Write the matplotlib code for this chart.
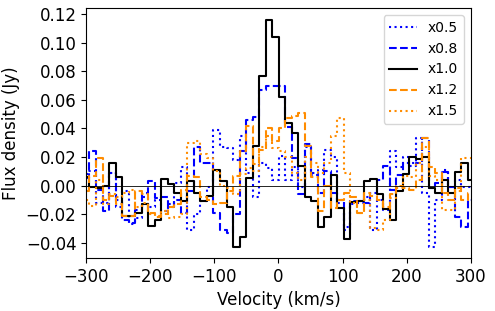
import numpy as np
import matplotlib
matplotlib.use("Agg")
import matplotlib.pyplot as plt

# channel velocities (km/s)
velocity = np.round(-299.9 + 10.18 * np.arange(60), 1)

flux_x10 = [0.006, -0.001, -0.002, 0.000, 0.016, 0.006, -0.021, -0.021, -0.019, -0.013,
            -0.028, -0.024, 0.0045, 0.001, -0.005, -0.011, 0.003, -0.005, -0.011, -0.007,
            0.011, 0.003, -0.015, -0.043, -0.036, 0.005, 0.028, 0.077, 0.116, 0.104,
            0.062, 0.0437, 0.037, 0.014, -0.0077, -0.0105, -0.029, -0.0217, 0.0075, -0.0158,
            -0.0375, -0.0112, -0.0105, 0.0033, 0.0045, -0.0058, -0.0163, -0.024, -0.0035, 0.0082,
            0.0203, 0.0187, 0.0203, -0.0015, -0.0049, 0.0042, -0.0049, 0.0098, 0.0157, 0.004]

flux_x08 = [0.005, 0.024, -0.003, -0.018, 0.009, -0.010, -0.024, -0.026, -0.017, -0.005,
            0.003, -0.009, -0.008, -0.015, -0.010, -0.019, -0.004, 0.027, 0.016, 0.016,
            -0.019, -0.031, -0.033, -0.020, 0.024, 0.046, 0.048, 0.067, 0.070, 0.070,
            0.070, 0.041, 0.0195, -0.006, 0.029, 0.009, -0.005, 0.010, -0.005, -0.012,
            -0.031, -0.011, -0.012, -0.012, -0.005, 0.004, 0.0135, -0.003, 0.0075, 0.016,
            0.0135, 0.016, 0.033, -0.002, 0.002, 0.0098, -0.001, -0.022, -0.029, -0.010]

flux_x05 = [0.008, 0.010, -0.012, -0.012, 0.009, -0.015, -0.004, -0.027, -0.023, -0.008,
            -0.015, -0.010, -0.018, -0.013, 0.002, 0.013, -0.031, -0.020, -0.011, -0.001,
            0.039, 0.027, 0.026, 0.018, 0.035, 0.009, -0.008, 0.016, 0.012, 0.004,
            0.021, 0.004, 0.013, -0.001, 0.027, 0.0075, 0.011, 0.025, 0.020, -0.010,
            -0.029, -0.013, -0.011, -0.008, -0.031, -0.010, -0.017, 0.024, 0.013, 0.020,
            0.016, 0.033, -0.005, -0.043, -0.010, 0.011, -0.001, 0.004, -0.001, -0.001]

flux_x12 = [-0.004, 0.007, 0.019, -0.010, -0.007, -0.013, -0.021, -0.021, -0.004, -0.006,
            -0.019, -0.022, -0.020, -0.015, -0.013, -0.003, 0.007, 0.006, -0.008, -0.010,
            -0.013, -0.012, -0.004, 0.007, 0.024, 0.042, 0.015, 0.025, 0.040, 0.031,
            0.040, 0.047, 0.049, 0.051, 0.028, 0.006, -0.018, 0.000, -0.016, -0.010,
            -0.005, -0.008, -0.019, -0.005, -0.007, -0.010, -0.015, -0.006, 0.000, -0.002,
            -0.003, 0.004, 0.033, 0.013, 0.009, -0.005, -0.010, -0.002, -0.010, -0.005]

flux_x15 = [-0.010, -0.014, 0.004, -0.013, -0.006, -0.008, -0.005, -0.003, -0.015, -0.012,
            -0.020, -0.021, -0.018, -0.023, -0.022, -0.020, 0.030, 0.031, 0.022, 0.019,
            0.010, 0.000, -0.002, -0.006, 0.008, 0.012, 0.010, 0.027, 0.035, 0.026,
            0.024, 0.020, 0.009, 0.004, 0.020, 0.016, 0.009, 0.016, 0.035, 0.047,
            0.009, -0.012, -0.019, -0.010, -0.030, -0.031, -0.024, -0.009, -0.002, 0.007,
            0.006, 0.016, 0.027, 0.007, 0.004, -0.017, -0.017, -0.004, 0.019, 0.019]

labels = ["x0.5", "x0.8", "x1.0", "x1.2", "x1.5"]

fig = plt.figure(figsize=(4.95, 3.11), dpi=100)
ax = fig.add_axes([0.174, 0.170, 0.777, 0.804])

ax.plot(velocity, flux_x05, drawstyle="steps-mid", color="blue", ls=":", lw=1.5, label=labels[0])
ax.plot(velocity, flux_x08, drawstyle="steps-mid", color="blue", ls="--", lw=1.5, label=labels[1])
ax.plot(velocity, flux_x10, drawstyle="steps-mid", color="black", ls="-", lw=1.5, label=labels[2])
ax.plot(velocity, flux_x12, drawstyle="steps-mid", color="darkorange", ls="--", lw=1.5, label=labels[3])
ax.plot(velocity, flux_x15, drawstyle="steps-mid", color="darkorange", ls=":", lw=1.5, label=labels[4])
ax.axhline(0, color="black", lw=0.6)

ax.set_xlim(-300, 300)
ax.set_ylim(-0.0508, 0.1242)
ax.set_xticks([-300, -200, -100, 0, 100, 200, 300])
ax.set_yticks([-0.04, -0.02, 0.0, 0.02, 0.04, 0.06, 0.08, 0.10, 0.12])
ax.tick_params(labelsize=12)
ax.set_xlabel("Velocity (km/s)", fontsize=12)
ax.set_ylabel("Flux density (Jy)", fontsize=12)
ax.legend(loc="upper right", fontsize=10)

fig.savefig("out.png", dpi=100)
